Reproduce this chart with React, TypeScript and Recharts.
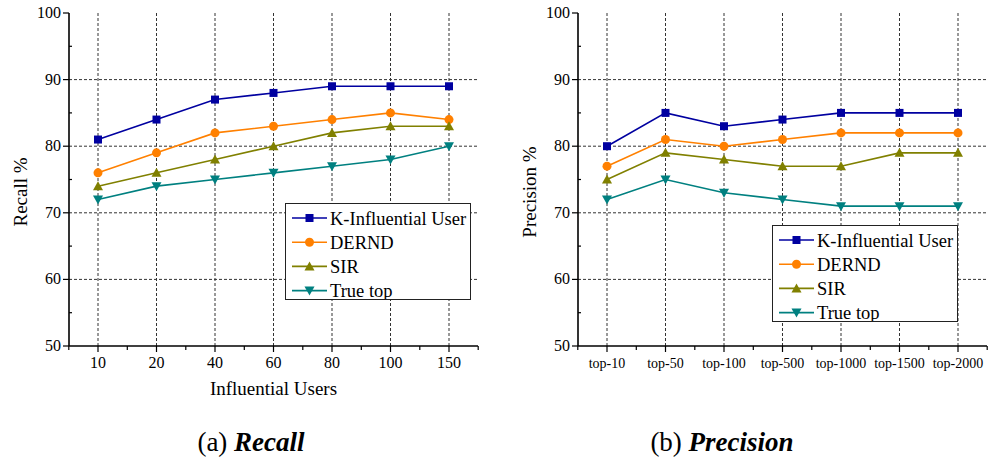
import React from "react";
import { LineChart, Line, XAxis, YAxis, ReferenceLine } from "recharts";

const recallCategories = ["10", "20", "40", "60", "80", "100", "150"];
const recallKInfluential = [81, 84, 87, 88, 89, 89, 89];
const recallDERND = [76, 79, 82, 83, 84, 85, 84];
const recallSIR = [74, 76, 78, 80, 82, 83, 83];
const recallTrueTop = [72, 74, 75, 76, 77, 78, 80];

const precisionCategories = ["top-10", "top-50", "top-100", "top-500", "top-1000", "top-1500", "top-2000"];
const precisionKInfluential = [80, 85, 83, 84, 85, 85, 85];
const precisionDERND = [77, 81, 80, 81, 82, 82, 82];
const precisionSIR = [75, 79, 78, 77, 77, 79, 79];
const precisionTrueTop = [72, 75, 73, 72, 71, 71, 71];

const seriesNames = ["K-Influential User", "DERND", "SIR", "True top"];
const yTicks = [50, 55, 60, 65, 70, 75, 80, 85, 90, 95, 100];
const majorY = [50, 60, 70, 80, 90, 100];
const gridY = [60, 70, 80, 90];

const SERIES = [
  { key: "k", name: seriesNames[0], color: "#0000a0", shape: "square" },
  { key: "d", name: seriesNames[1], color: "#ff8000", shape: "circle" },
  { key: "s", name: seriesNames[2], color: "#808000", shape: "up" },
  { key: "t", name: seriesNames[3], color: "#008080", shape: "down" },
];

const FONT = "Liberation Serif, DejaVu Serif, Noto Serif, serif";

function MarkerShape({ cx, cy, shape, color }: any) {
  if (cx == null || cy == null) return null;
  if (shape === "square") return <rect x={cx - 4} y={cy - 4} width={8} height={8} fill={color} />;
  if (shape === "circle") return <circle cx={cx} cy={cy} r={4.5} fill={color} />;
  if (shape === "up")
    return <polygon points={`${cx},${cy - 5} ${cx + 5},${cy + 4} ${cx - 5},${cy + 4}`} fill={color} />;
  return <polygon points={`${cx},${cy + 5} ${cx + 5},${cy - 4} ${cx - 5},${cy - 4}`} fill={color} />;
}

function build(cats: string[], a: number[], b: number[], c: number[], d: number[]) {
  return cats.map((cat, i) => ({ cat, k: a[i], d: b[i], s: c[i], t: d[i] }));
}

const recallData = build(recallCategories, recallKInfluential, recallDERND, recallSIR, recallTrueTop);
const precisionData = build(precisionCategories, precisionKInfluential, precisionDERND, precisionSIR, precisionTrueTop);

function YTick({ x, y, payload }: any) {
  const major = majorY.includes(payload.value);
  return (
    <g>
      {major ? (
        <line x1={x - 6} x2={x} y1={y} y2={y} stroke="#000" strokeWidth={1.2} />
      ) : (
        <line x1={x} x2={x + 3} y1={y} y2={y} stroke="#000" strokeWidth={1.2} />
      )}
      {major && (
        <text x={x - 8} y={y} dy={5} textAnchor="end" fontFamily={FONT} fontSize={16} fill="#000">
          {payload.value}
        </text>
      )}
    </g>
  );
}

function makeXTick(step: number, fontSize: number, last: string) {
  return function XTick({ x, y, payload }: any) {
    return (
      <g>
        <line x1={x} x2={x} y1={y} y2={y + 6} stroke="#000" strokeWidth={1.2} />
        <line x1={x - step / 2} x2={x - step / 2} y1={y} y2={y + 4} stroke="#000" strokeWidth={1.2} />
        {payload.value === last && (
          <line x1={x + step / 2} x2={x + step / 2} y1={y} y2={y + 4} stroke="#000" strokeWidth={1.2} />
        )}
        <text x={x} y={y + 22} textAnchor="middle" fontFamily={FONT} fontSize={fontSize} fill="#000">
          {payload.value}
        </text>
      </g>
    );
  };
}

function LegendBox({ left, top }: { left: number; top: number }) {
  const width = 186;
  const height = 97;
  return (
    <div
      style={{
        position: "absolute",
        left,
        top,
        width,
        height,
        border: "1.3px solid #222",
        background: "#fff",
        boxSizing: "border-box",
        overflow: "hidden",
      }}
    >
      <svg width={width} height={height} style={{ position: "absolute", left: 0, top: 0 }}>
        {SERIES.map((s, i) => {
          const cy = 14 + i * 24.2;
          return (
            <g key={s.key}>
              <line x1={6} x2={41} y1={cy} y2={cy} stroke={s.color} strokeWidth={1.6} />
              <MarkerShape cx={23.5} cy={cy} shape={s.shape} color={s.color} />
              <text x={44} y={cy + 6.5} fontFamily={FONT} fontSize={18.5} fill="#000">
                {s.name}
              </text>
            </g>
          );
        })}
      </svg>
    </div>
  );
}

function makeYLabel(text: string, cx: number, cy: number) {
  return function YLabel() {
    return (
      <text
        x={cx}
        y={cy}
        transform={`rotate(-90 ${cx} ${cy})`}
        textAnchor="middle"
        dominantBaseline="central"
        fontFamily={FONT}
        fontSize={19}
        fill="#000"
      >
        {text}
      </text>
    );
  };
}

function makeXLabel(text: string) {
  return function XLabel({ viewBox }: any) {
    if (!text || !viewBox) return null;
    return (
      <text
        x={viewBox.x + viewBox.width / 2}
        y={395}
        textAnchor="middle"
        fontFamily={FONT}
        fontSize={19}
        fill="#000"
      >
        {text}
      </text>
    );
  };
}

function Panel({ data, cats, width, yAxisWidth, yLabel, yLabelX, xLabel, xFont }: any) {
  const XTick = makeXTick(58.4, xFont, cats[cats.length - 1]);
  const YLabel = makeYLabel(yLabel, yLabelX, 192);
  const XLabel = makeXLabel(xLabel);
  return (
    <LineChart
      width={width}
      height={400}
      data={data}
      margin={{ top: 13, right: 10, bottom: 0, left: 0 }}
      style={{ fontFamily: FONT }}
    >
      {gridY.map((v) => (
        <ReferenceLine key={"h" + v} y={v} stroke="#333" strokeDasharray="3 2" strokeWidth={1} />
      ))}
      {cats.map((c: string) => (
        <ReferenceLine key={"v" + c} x={c} stroke="#333" strokeDasharray="3 2" strokeWidth={1} />
      ))}
      <XAxis
        dataKey="cat"
        height={54}
        padding={{ left: 29, right: 29 }}
        tickLine={false}
        tickSize={0}
        tickMargin={0}
        tick={<XTick />}
        interval={0}
        axisLine={{ stroke: "#000", strokeWidth: 1.6 }}
        label={{ content: <XLabel /> }}
      />
      <YAxis
        domain={[50, 100]}
        ticks={yTicks}
        interval={0}
        width={yAxisWidth}
        tickLine={false}
        tickSize={0}
        tickMargin={0}
        tick={<YTick />}
        axisLine={{ stroke: "#000", strokeWidth: 1.6 }}
        label={{ content: <YLabel /> }}
      />
      {SERIES.map((s) => (
        <Line
          key={s.key}
          dataKey={s.key}
          name={s.name}
          stroke={s.color}
          strokeWidth={1.6}
          isAnimationActive={false}
          dot={(p: any) => <MarkerShape key={s.key + p.index} cx={p.cx} cy={p.cy} shape={s.shape} color={s.color} />}
          activeDot={false}
        />
      ))}
    </LineChart>
  );
}

const captionStyle: React.CSSProperties = {
  position: "absolute",
  width: 240,
  top: 427,
  textAlign: "center",
  fontFamily: FONT,
  fontSize: 27,
  lineHeight: "30px",
  color: "#000",
  whiteSpace: "nowrap",
};

export default function App() {
  return (
    <div style={{ position: "absolute", left: 0, top: 0, width: 997, height: 463, background: "#fff", fontFamily: FONT }}>
      <div style={{ position: "absolute", left: 0, top: 0 }}>
        <Panel
          data={recallData}
          cats={recallCategories}
          width={488}
          yAxisWidth={69}
          yLabel="Recall %"
          yLabelX={20}
          xLabel="Influential Users"
          xFont={16}
        />
      </div>
      <div style={{ position: "absolute", left: 500, top: 0 }}>
        <Panel
          data={precisionData}
          cats={precisionCategories}
          width={497}
          yAxisWidth={78}
          yLabel="Precision %"
          yLabelX={29}
          xLabel=""
          xFont={14}
        />
      </div>
      <LegendBox left={285} top={203} />
      <LegendBox left={772} top={225} />
      <div style={{ ...captionStyle, left: 131 }}>
        (a) <span style={{ fontWeight: "bold", fontStyle: "italic" }}>Recall</span>
      </div>
      <div style={{ ...captionStyle, left: 602 }}>
        (b) <span style={{ fontWeight: "bold", fontStyle: "italic" }}>Precision</span>
      </div>
    </div>
  );
}
